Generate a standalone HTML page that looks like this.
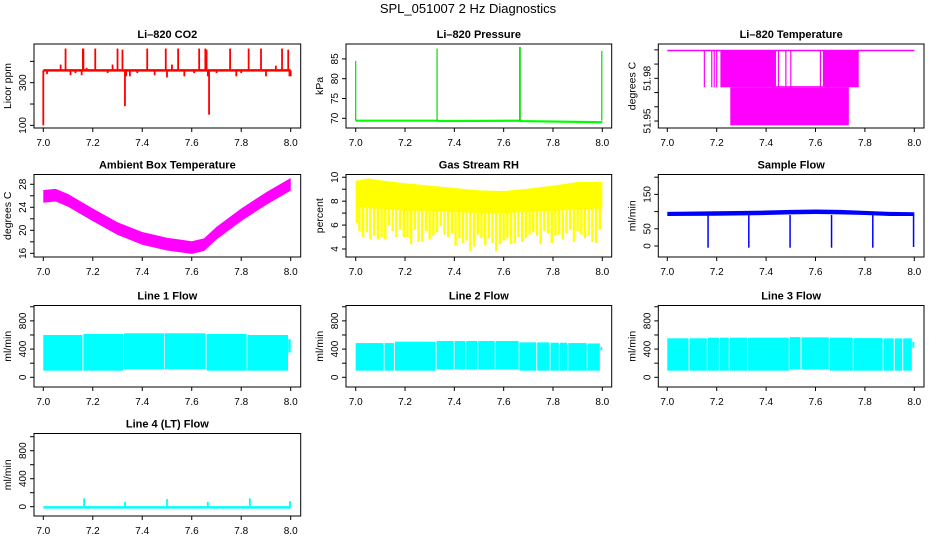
<!DOCTYPE html>
<html><head><meta charset="utf-8"><style>
html,body{margin:0;padding:0;background:#fff;}
svg{display:block;font-family:"Liberation Sans",Arial,sans-serif;}
</style></head><body>
<svg id="fig" width="936" height="540" viewBox="0 0 936 540">
<text x="468" y="13" text-anchor="middle" font-size="13">SPL_051007  2 Hz Diagnostics</text>
</svg>
<script>
// ---- data ----
const co2Base = 358;
const co2SpikeT = [7.0,7.015,7.07,7.09,7.11,7.13,7.155,7.16,7.162,7.175,7.21,7.26,7.28,7.30,7.32,7.33,7.335,7.35,7.38,7.42,7.45,7.495,7.5,7.52,7.545,7.57,7.61,7.63,7.655,7.66,7.665,7.67,7.70,7.755,7.78,7.80,7.83,7.88,7.90,7.94,7.965,7.99,7.995,8.0];
const co2SpikeV = [100,340,385,460,335,345,335,460,460,370,460,345,385,460,455,190,330,330,345,460,335,460,325,385,460,330,345,460,460,455,330,150,345,460,330,345,460,460,330,380,460,455,330,330];
const presT = [7.0,7.33,7.34,7.665,7.67,8.0];
const presV = [69.4,69.4,69.3,69.4,69.3,69.0];
const presSpikeT = [7.0,7.33,7.665,7.667,7.998];
const presSpikeV = [84.5,87.6,88.0,88.0,87.0];
const tempLineV = 51.9995;
const tempBandT0 = [7.255,7.215,7.63,7.44];
const tempBandT1 = [7.735,7.44,7.775,7.63];
const tempBandLo = [51.947,51.9737,51.9737,51.9737];
const tempBandHi = [51.9737,51.9995,51.9995,51.9745];
const tempLineT = [7.15,7.18,7.19,7.20,7.45,7.48,7.50,7.62,7.65];
const ambT = [7.0,7.05,7.1,7.2,7.3,7.4,7.5,7.6,7.65,7.7,7.8,7.9,8.0];
const ambV = [25.9,26.1,25.2,22.7,20.3,18.6,17.6,17.0,17.5,19.5,22.7,25.5,28.0];
const rhT = [7.0,7.05,7.1,7.2,7.3,7.4,7.5,7.6,7.7,7.8,7.9,8.0];
const rhHi = [9.7,9.9,9.75,9.5,9.3,9.1,8.9,8.85,9.05,9.3,9.6,9.6];
const rhLo = [7.6,7.4,7.4,7.2,7.2,7.1,7.0,7.0,7.1,7.2,7.3,7.4];
const rhSpikeT = [7.005,7.015,7.03,7.045,7.06,7.075,7.09,7.105,7.12,7.135,7.15,7.165,7.18,7.195,7.21,7.225,7.24,7.255,7.27,7.285,7.30,7.315,7.33,7.345,7.36,7.375,7.39,7.405,7.42,7.435,7.45,7.465,7.48,7.495,7.51,7.525,7.54,7.555,7.57,7.585,7.60,7.615,7.63,7.645,7.66,7.675,7.69,7.705,7.72,7.735,7.75,7.765,7.78,7.795,7.81,7.825,7.84,7.855,7.87,7.885,7.90,7.915,7.93,7.945,7.96,7.975,7.99];
const rhSpikeV = [6.2,5.5,5.0,5.4,4.8,5.1,4.8,5.0,4.8,6.0,5.5,5.0,5.6,5.0,5.0,4.4,5.6,4.6,4.6,5.5,4.8,5.1,5.4,5.9,5.2,5.0,5.3,4.3,4.9,4.5,4.7,3.8,4.2,5.2,4.9,4.3,4.9,4.5,3.8,4.4,4.7,4.9,4.4,4.5,5.0,4.6,4.9,5.2,5.4,5.1,4.4,5.5,5.3,4.5,5.1,5.2,4.8,5.3,5.6,4.6,5.5,5.2,4.9,5.1,4.6,4.5,5.6];
const sfT = [7.0,7.2,7.4,7.5,7.6,7.7,7.8,7.9,8.0];
const sfHi = [99,101,103,105,106,105,102,99,98];
const sfLo = [87,88,90,92,93,92,90,87,87];
const sfDipT = [7.165,7.33,7.497,7.665,7.832,7.997];
const sfDipV = [-5,-5,-5,-5,-5,-3];
const l1Start = [7.0,7.162,7.326,7.491,7.66,7.826,7.99];
const l1End = [7.158,7.322,7.488,7.656,7.822,7.989,8.0];
const l1Lo = [94,94,113,113,94,94,350];
const l1Hi = [600,614,624,624,614,600,540];
const l2Start = [7.0,7.117,7.159,7.328,7.401,7.448,7.497,7.568,7.665,7.736,7.79,7.828,7.862,7.941,7.992];
const l2End = [7.113,7.155,7.324,7.397,7.444,7.493,7.564,7.661,7.732,7.786,7.824,7.858,7.937,7.99,8.0];
const l2Lo = [94,94,94,110,110,110,110,110,94,94,94,94,94,94,380];
const l2Hi = [485,485,505,515,515,515,515,515,495,495,490,490,485,480,430];
const l3Start = [7.0,7.09,7.164,7.213,7.253,7.327,7.496,7.543,7.658,7.755,7.876,7.921,7.955,7.992];
const l3End = [7.086,7.16,7.209,7.249,7.323,7.492,7.539,7.654,7.751,7.872,7.917,7.951,7.99,8.0];
const l3Lo = [94,94,94,94,94,94,110,110,94,94,94,94,94,420];
const l3Hi = [553,553,562,562,562,562,570,566,562,556,552,552,552,500];
const l4SpikeT = [7.165,7.33,7.5,7.665,7.835,7.997];
const l4SpikeV = [120,70,110,70,120,80];
const l4Base = -10;

// ---- layout ----
const NS = "http://www.w3.org/2000/svg";
const svg = document.getElementById('fig');
const cols = [{l:34,r:300.7,x7:43.3,x8:290.7},{l:346,r:611.7,x7:355.7,x8:602.3},{l:658.3,r:924,x7:667.3,x8:914.3}];
const rows = [{t:44,b:128},{t:174.5,b:257},{t:305.5,b:387},{t:433.5,b:516}];
function mk(tag, attrs, parent){const e=document.createElementNS(NS,tag);for(const k in attrs)e.setAttribute(k,attrs[k]);(parent||svg).appendChild(e);return e;}

function panel(ci, ri, name, title, ylab, ymin, ymax, ticks, labels){
  const c=cols[ci], r=rows[ri];
  const g=mk('g',{});
  
  
  const sx=t=>c.x7+(t-7)*(c.x8-c.x7);
  const sy=v=>r.b-(v-ymin)/(ymax-ymin)*(r.b-r.t);
  const plot=mk('g',{},g);
  
  
  const fr=mk('rect',{x:c.l,y:r.t,width:c.r-c.l,height:r.b-r.t,fill:'none',stroke:'#000','stroke-width':1},g);
  
  
  const tt=mk('text',{x:(c.l+c.r)/2,y:r.t-6,'text-anchor':'middle','font-size':11,'font-weight':'bold'},g);
  tt.textContent=title;
  
  
  const xa=mk('g',{},g);
  
  
  for(let i=0;i<=5;i++){const t=7+i*0.2;const x=sx(t);
    mk('line',{x1:x,x2:x,y1:r.b,y2:r.b+4,stroke:'#000'},xa);
    const tx=mk('text',{x:x,y:r.b+18,'text-anchor':'middle','font-size':10},xa);tx.textContent=t.toFixed(1);
    
    
  }
  const ya=mk('g',{},g);
  
  
  ticks.forEach(v=>{const y=sy(v);mk('line',{x1:c.l-4,x2:c.l,y1:y,y2:y,stroke:'#000'},ya);});
  labels.forEach(v=>{const y=sy(v);const tx=mk('text',{x:0,y:0,'text-anchor':'middle','font-size':10,transform:`translate(${c.l-8},${y}) rotate(-90)`},ya);tx.textContent=String(v);
    
    
  });
  const yt=mk('text',{x:0,y:0,'text-anchor':'middle','font-size':10.5,transform:`translate(${c.l-23},${(r.t+r.b)/2}) rotate(-90)`},g);
  yt.textContent=ylab;
  
  
  return {sx,sy,plot};
}
function vline(p,t,v0,v1,col,w){return mk('line',{x1:p.sx(t),x2:p.sx(t),y1:p.sy(v0),y2:p.sy(v1),stroke:col,'stroke-width':w},p.plot);}
function bandPoly(p,T,Hi,Lo,col){let pts=T.map((t,i)=>p.sx(t)+','+p.sy(Hi[i]));for(let i=T.length-1;i>=0;i--)pts.push(p.sx(T[i])+','+p.sy(Lo[i]));return mk('polygon',{points:pts.join(' '),fill:col},p.plot);}
function rect(p,t0,t1,lo,hi,col){return mk('rect',{x:p.sx(t0),y:p.sy(hi),width:Math.max(0.5,p.sx(t1)-p.sx(t0)),height:p.sy(lo)-p.sy(hi),fill:col},p.plot);}

{const p=panel(0,0,'co2','Li\u2013820 CO2','Licor ppm',87.6,481.4,[100,200,300,400],[100,300]);
 mk('line',{x1:p.sx(7.0),x2:p.sx(8.0),y1:p.sy(co2Base),y2:p.sy(co2Base),stroke:'#ff0000','stroke-width':2.5},p.plot);
 co2SpikeT.forEach((t,i)=>{const s=vline(p,t,co2Base,co2SpikeV[i],'#ff0000',1.8);});}
{const p=panel(1,0,'pressure','Li\u2013820 Pressure','kPa',67.55,88.76,[70,75,80,85],[70,75,80,85]);
 mk('polyline',{points:presT.map((t,i)=>p.sx(t)+','+p.sy(presV[i])).join(' '),fill:'none',stroke:'#00ff00','stroke-width':2.2},p.plot);
 presSpikeT.forEach((t,i)=>{const s=vline(p,t,presV[0],presSpikeV[i],'#00dd00',1.2);});}
{const p=panel(2,0,'li820-temperature','Li\u2013820 Temperature','degrees C',51.9451,52.0041,[51.95,51.96,51.97,51.98,51.99,52.0],[51.95,51.98]);
 mk('line',{x1:p.sx(7.0),x2:p.sx(8.0),y1:p.sy(tempLineV),y2:p.sy(tempLineV),stroke:'#ff00ff','stroke-width':1.5},p.plot);
 tempBandT0.forEach((t,i)=>{const b=rect(p,t,tempBandT1[i],tempBandLo[i],tempBandHi[i],'#ff00ff');});
 tempLineT.forEach(t=>{const s=vline(p,t,51.9737,tempLineV,'#ff00ff',1.2);});}
{const p=panel(0,1,'ambient-temperature','Ambient Box Temperature','degrees C',15.36,29.7,[16,18,20,22,24,26,28],[16,20,24,28]);
 const b=bandPoly(p,ambT,ambV.map(v=>v+1.1),ambV.map(v=>v-1.1),'#ff00ff');}
{const p=panel(1,1,'gas-stream-rh','Gas Stream RH','percent',3.33,10.23,[4,5,6,7,8,9,10],[4,6,8,10]);
 const b=bandPoly(p,rhT,rhHi,rhLo,'#ffff00');
 rhSpikeT.forEach((t,i)=>{const s=vline(p,t,7.6,rhSpikeV[i],'#ffff00',2.4);});}
{const p=panel(2,1,'sample-flow','Sample Flow','ml/min',-32,207.8,[0,50,100,150,200],[0,50,150]);
 const b=bandPoly(p,sfT,sfHi,sfLo,'#0000ff');
 sfDipT.forEach((t,i)=>{const s=vline(p,t,90,sfDipV[i],'#0000ff',1.5);});}
function flowPanel(ci,ri,name,title,S,E,L,H){
 const p=panel(ci,ri,name,title,'ml/min',-137.6,1018,[0,200,400,600,800,1000],[0,400,800]);
 S.forEach((t,i)=>{const b=rect(p,t,E[i],L[i],H[i],'#00ffff');});}
flowPanel(0,2,'line1-flow','Line 1 Flow',l1Start,l1End,l1Lo,l1Hi);
flowPanel(1,2,'line2-flow','Line 2 Flow',l2Start,l2End,l2Lo,l2Hi);
flowPanel(2,2,'line3-flow','Line 3 Flow',l3Start,l3End,l3Lo,l3Hi);
{const p=panel(0,3,'line4-flow','Line 4 (LT) Flow','ml/min',-133,1046,[0,200,400,600,800,1000],[0,400,800]);
 mk('line',{x1:p.sx(7.0),x2:p.sx(8.0),y1:p.sy(l4Base),y2:p.sy(l4Base),stroke:'#00ffff','stroke-width':2.5},p.plot);
 l4SpikeT.forEach((t,i)=>{const s=vline(p,t,l4Base,l4SpikeV[i],'#00ffff',1.8);});}
</script>
</body></html>
